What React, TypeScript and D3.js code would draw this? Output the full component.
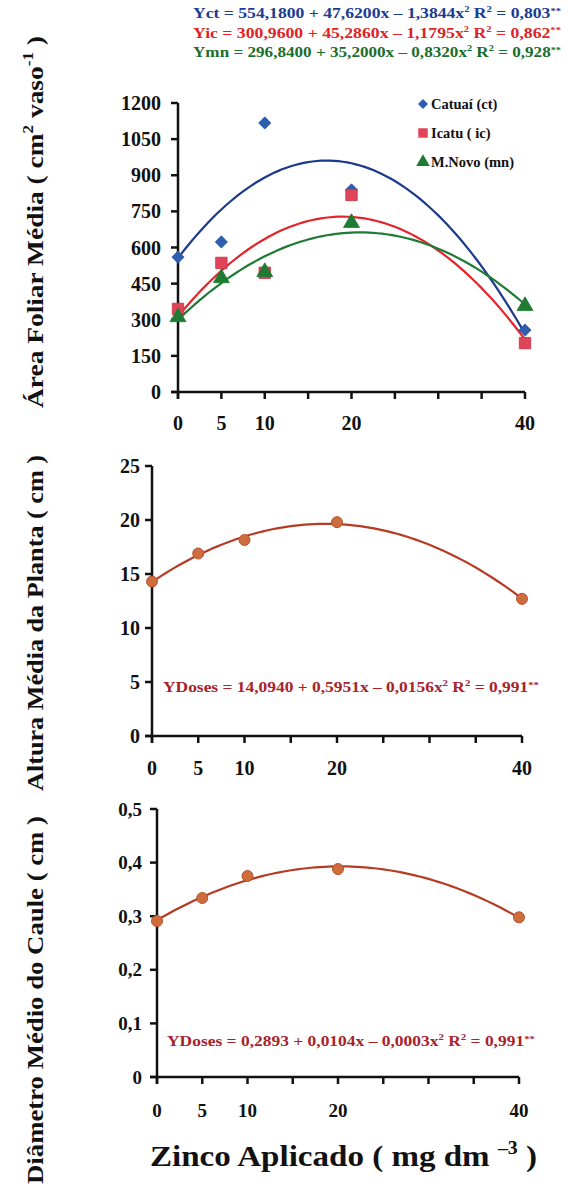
import React from "react";
import * as d3 from "d3";

const X_DOSES = [0, 5, 10, 20, 40];
const X_TICKS = [0, 5, 10, 15, 20, 25, 30, 35, 40];
const X_LABELS = [0, 5, 10, 20, 40];

const CATUAI = [560, 623, 1117, 839, 257];
const ICATU = [345, 536, 495, 818, 203];
const MNOVO = [311, 473, 498, 702, 357];

const ALTURA = [14.3, 16.9, 18.15, 19.8, 12.7];
const DIAMETRO = [0.291, 0.334, 0.375, 0.388, 0.298];

const AREA_TICKS = [0, 150, 300, 450, 600, 750, 900, 1050, 1200];
const ALTURA_TICKS = [0, 5, 10, 15, 20, 25];
const DIAM_TICKS = [0, 0.1, 0.2, 0.3, 0.4, 0.5];

const SERIES_NAMES = ["Catuaí (ct)", "Icatu ( ic)", "M.Novo (mn)"];
const EQ_TOP = [
  { lbl: "Yct", a: "554,1800", b: "47,6200", c: "1,3844", r2: "0,803" },
  { lbl: "Yic", a: "300,9600", b: "45,2860", c: "1,1795", r2: "0,862" },
  { lbl: "Ymn", a: "296,8400", b: "35,2000", c: "0,8320", r2: "0,928" },
];
const EQ_ALTURA = { lbl: "YDoses", a: "14,0940", b: "0,5951", c: "0,0156", r2: "0,991" };
const EQ_DIAM = { lbl: "YDoses", a: "0,2893", b: "0,0104", c: "0,0003", r2: "0,991" };

const FONT = "'Liberation Serif', 'Times New Roman', serif";

// least squares quadratic fit y = c0 + c1 x + c2 x^2
function quadFit(xs: number[], ys: number[]) {
  const S = (p: number) => d3.sum(xs, (x) => Math.pow(x, p));
  const T = (p: number) => d3.sum(xs, (x, i) => Math.pow(x, p) * ys[i]);
  const M = [
    [S(0), S(1), S(2), T(0)],
    [S(1), S(2), S(3), T(1)],
    [S(2), S(3), S(4), T(2)],
  ];
  for (let i = 0; i < 3; i++) {
    for (let j = i + 1; j < 3; j++) {
      const f = M[j][i] / M[i][i];
      for (let k = i; k < 4; k++) M[j][k] -= f * M[i][k];
    }
  }
  const c = [0, 0, 0];
  for (let i = 2; i >= 0; i--) {
    let s = M[i][3];
    for (let k = i + 1; k < 3; k++) s -= M[i][k] * c[k];
    c[i] = s / M[i][i];
  }
  return (x: number) => c[0] + c[1] * x + c[2] * x * x;
}

function Equation({ x, y, eq, color, size, len }: any) {
  const sup = Math.round(size * 0.6);
  return (
    <text x={x} y={y} fill={color} fontFamily={FONT} fontWeight="bold" fontSize={size}
      textLength={len} lengthAdjust="spacingAndGlyphs">
      {`${eq.lbl} = ${eq.a} + ${eq.b}x – ${eq.c}x`}
      <tspan dy={-size * 0.4} fontSize={sup}>2</tspan>
      <tspan dy={size * 0.4}>{" R"}</tspan>
      <tspan dy={-size * 0.4} fontSize={sup}>2</tspan>
      <tspan dy={size * 0.4}>{` = ${eq.r2}`}</tspan>
      <tspan dy={-size * 0.3} fontSize={sup}>**</tspan>
    </text>
  );
}

function Axes({ x, y, yTicks, fmt, labelSize, xLabelY, yLabelX }: any) {
  const [x0, x1] = x.range();
  const y0 = y(0);
  const yTop = y(yTicks[yTicks.length - 1]);
  return (
    <g fontFamily={FONT} fontWeight="bold" fontSize={labelSize} fill="#111">
      <line x1={x0} x2={x0} y1={yTop} y2={y0 + 7} stroke="#111" strokeWidth={2.5} />
      <line x1={x0 - 7} x2={x1} y1={y0} y2={y0} stroke="#111" strokeWidth={2.5} />
      {yTicks.map((t: number) => (
        <g key={"y" + t}>
          <line x1={x0 - 7} x2={x0} y1={y(t)} y2={y(t)} stroke="#111" strokeWidth={2.5} />
          <text x={yLabelX} y={y(t)} textAnchor="end" dominantBaseline="central">{fmt(t)}</text>
        </g>
      ))}
      {X_TICKS.map((t) => (
        <line key={"x" + t} x1={x(t)} x2={x(t)} y1={y0} y2={y0 + 7} stroke="#111" strokeWidth={2.5} />
      ))}
      {X_LABELS.map((t) => (
        <text key={"xl" + t} x={x(t)} y={xLabelY} textAnchor="middle" dominantBaseline="central">{t}</text>
      ))}
    </g>
  );
}

function curvePath(f: (x: number) => number, x: any, y: any) {
  const pts = d3.range(0, 40.01, 0.5);
  return d3.line<number>().x((d) => x(d)).y((d) => y(f(d))).curve(d3.curveLinear)(pts) as string;
}

export default function App() {
  // top panel
  const xA = d3.scaleLinear().domain([0, 40]).range([178, 525]);
  const yA = d3.scaleLinear().domain([0, 1200]).range([392, 103]);
  const colors = ["#1b3a8c", "#e3242b", "#1f7a34"];
  const fills = ["#2d5fae", "#e04459", "#1f7a34"];
  const eqColors = ["#1a3c93", "#e01f26", "#1c6e2c"];
  const seriesData = [CATUAI, ICATU, MNOVO];

  // middle panel
  const xB = d3.scaleLinear().domain([0, 40]).range([152, 522]);
  const yB = d3.scaleLinear().domain([0, 25]).range([736, 466]);
  // bottom panel
  const xC = d3.scaleLinear().domain([0, 40]).range([157, 519]);
  const yC = d3.scaleLinear().domain([0, 0.5]).range([1077, 809]);

  const lineBrown = "#b53c22";
  const dotFill = "#cf6c3e";
  const dotStroke = "#b4532c";

  const square = d3.symbol().type(d3.symbolSquare).size(130)();
  const triangle = d3.symbol().type(d3.symbolTriangle).size(110)();
  const diamond = d3.symbol().type(d3.symbolSquare).size(75)();
  const shapes = [diamond, square, triangle];
  const rot = [45, 0, 0];
  const legShapes = [
    d3.symbol().type(d3.symbolSquare).size(50)(),
    d3.symbol().type(d3.symbolSquare).size(90)(),
    d3.symbol().type(d3.symbolTriangle).size(80)(),
  ];

  const fmtComma = (t: number) => String(t).replace(".", ",");

  return (
    <svg width={571} height={1193} style={{ position: "absolute", left: 0, top: 0, background: "#fff" }}>
      <rect width={571} height={1193} fill="#fff" />
      {/* top equations */}
      {EQ_TOP.map((eq, i) => (
        <Equation key={i} x={193} y={18 + i * 19.5} eq={eq} color={eqColors[i]} size={15} len={368} />
      ))}

      {/* y titles */}
      <text transform="translate(43,222) rotate(-90)" textAnchor="middle" fontFamily={FONT} fontWeight="bold"
        fontSize={24} fill="#111" textLength={372} lengthAdjust="spacingAndGlyphs">
        Área Foliar Média ( cm<tspan dy={-10} fontSize={15}>2</tspan><tspan dy={10}>{"  vaso"}</tspan>
        <tspan dy={-10} fontSize={15}>-1</tspan><tspan dy={10}>{" )"}</tspan>
      </text>
      <text transform="translate(43,623) rotate(-90)" textAnchor="middle" fontFamily={FONT} fontWeight="bold"
        fontSize={24} fill="#111" textLength={336} lengthAdjust="spacingAndGlyphs">Altura Média da Planta ( cm )</text>
      <text transform="translate(43,1000) rotate(-90)" textAnchor="middle" fontFamily={FONT} fontWeight="bold"
        fontSize={24} fill="#111" textLength={368} lengthAdjust="spacingAndGlyphs">Diâmetro Médio do Caule ( cm )</text>

      {/* top panel */}
      <Axes x={xA} y={yA} yTicks={AREA_TICKS} fmt={(t: number) => String(t)} labelSize={20} xLabelY={423} yLabelX={161} />
      {seriesData.map((s, i) => (
        <path key={"c" + i} d={curvePath(quadFit(X_DOSES, s), xA, yA)} fill="none" stroke={colors[i]} strokeWidth={2.2} />
      ))}
      {seriesData.map((s, i) =>
        s.map((v, j) => (
          <path key={`m${i}-${j}`} d={shapes[i] as string}
            transform={`translate(${xA(X_DOSES[j])},${yA(v)}) rotate(${rot[i]})`}
            fill={fills[i]} stroke={i === 1 ? "#c9303f" : fills[i]} strokeWidth={0.8} />
        ))
      )}
      {SERIES_NAMES.map((n, i) => (
        <g key={"lg" + i}>
          <path d={legShapes[i] as string} transform={`translate(423,${104 + i * 29}) rotate(${rot[i]})`} fill={fills[i]} />
          <text x={431} y={104 + i * 29} dominantBaseline="central" fontFamily={FONT} fontWeight="bold" fontSize={14.5} fill="#111">{n}</text>
        </g>
      ))}

      {/* middle panel */}
      <Axes x={xB} y={yB} yTicks={ALTURA_TICKS} fmt={(t: number) => String(t)} labelSize={20} xLabelY={768} yLabelX={140} />
      <path d={curvePath(quadFit(X_DOSES, ALTURA), xB, yB)} fill="none" stroke={lineBrown} strokeWidth={2.2} />
      {ALTURA.map((v, j) => (
        <circle key={"a" + j} cx={xB(X_DOSES[j])} cy={yB(v)} r={5.5} fill={dotFill} stroke={dotStroke} strokeWidth={1} />
      ))}
      <Equation x={163} y={692} eq={EQ_ALTURA} color="#a8232a" size={14.5} len={376} />

      {/* bottom panel */}
      <Axes x={xC} y={yC} yTicks={DIAM_TICKS} fmt={fmtComma} labelSize={19} xLabelY={1110} yLabelX={142} />
      <path d={curvePath(quadFit(X_DOSES, DIAMETRO), xC, yC)} fill="none" stroke={lineBrown} strokeWidth={2.2} />
      {DIAMETRO.map((v, j) => (
        <circle key={"d" + j} cx={xC(X_DOSES[j])} cy={yC(v)} r={5.5} fill={dotFill} stroke={dotStroke} strokeWidth={1} />
      ))}
      <Equation x={167} y={1046} eq={EQ_DIAM} color="#a8232a" size={14.5} len={368} />

      {/* x title */}
      <text x={150} y={1166} fontFamily={FONT} fontWeight="bold" fontSize={30} fill="#111" textLength={387} lengthAdjust="spacingAndGlyphs">
        Zinco Aplicado ( mg  dm <tspan dy={-12} fontSize={18}>–3</tspan><tspan dy={12}>{" )"}</tspan>
      </text>
    </svg>
  );
}
